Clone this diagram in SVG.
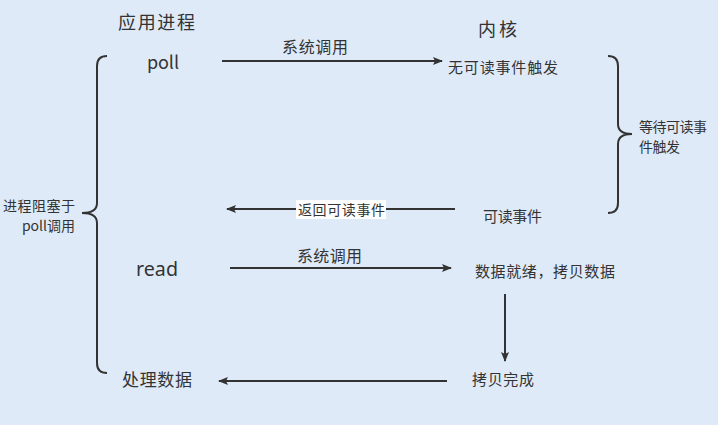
<svg xmlns="http://www.w3.org/2000/svg" width="718" height="425" viewBox="0 0 718 425">
<defs>
<marker id="ah" markerWidth="10" markerHeight="8" refX="9" refY="4" orient="auto" markerUnits="userSpaceOnUse">
<path d="M0,0 L10,4 L0,8 L2,4 Z" fill="#333"/>
</marker>
<style>
text{font-family:"Noto Sans CJK SC","Liberation Sans",sans-serif;fill:#333}
.t18{font-size:18px}
.t17{font-size:17px}
.t16{font-size:16px}
.t15{font-size:15px}
.t14{font-size:14px}
.lat{font-family:"Noto Sans","Noto Sans CJK SC",sans-serif}
.ln{stroke:#333;stroke-width:2;fill:none}
.br{stroke:#333;stroke-width:2;fill:none}
</style>
</defs>
<rect width="718" height="425" fill="#deeaf8"/>
<g id="connectors">
<line class="ln" x1="222" y1="61" x2="442" y2="61" marker-end="url(#ah)"/>
<line class="ln" x1="455" y1="209" x2="227" y2="209" marker-end="url(#ah)"/>
<line class="ln" x1="230" y1="268" x2="451" y2="268" marker-end="url(#ah)"/>
<line class="ln" x1="505" y1="294" x2="505" y2="361" marker-end="url(#ah)"/>
<line class="ln" x1="447" y1="381" x2="219" y2="381" marker-end="url(#ah)"/>
</g>
<g id="label-syscall1"><text class="t16" x="282" y="53" textLength="66" lengthAdjust="spacing">系统调用</text></g>
<g id="label-return"><rect x="296" y="200" width="90" height="19" fill="#ffffff"/><text class="t14" x="298" y="215" textLength="87" lengthAdjust="spacing">返回可读事件</text></g>
<g id="label-syscall2"><text class="t16" x="297" y="262" textLength="65" lengthAdjust="spacing">系统调用</text></g>
<g id="title-app"><text class="t18" x="118" y="29" textLength="77" lengthAdjust="spacing">应用进程</text></g>
<g id="title-kernel"><text class="t18" x="478" y="36" textLength="39" lengthAdjust="spacing">内核</text></g>
<g id="node-poll"><text class="t18" x="147" y="69" textLength="32" lengthAdjust="spacing">poll</text></g>
<g id="node-noevent"><text class="t15" x="448" y="73" textLength="110" lengthAdjust="spacing">无可读事件触发</text></g>
<g id="node-readable"><text class="t15" x="483" y="222" textLength="59" lengthAdjust="spacing">可读事件</text></g>
<g id="node-read"><text class="lat" x="136" y="276" style="font-size:20px" textLength="42" lengthAdjust="spacingAndGlyphs">read</text></g>
<g id="node-ready"><text class="t15" x="475" y="277" textLength="140" lengthAdjust="spacing">数据就绪，拷贝数据</text></g>
<g id="node-process"><text class="t17" x="122" y="386" textLength="70" lengthAdjust="spacing">处理数据</text></g>
<g id="node-copydone"><text class="t15" x="472" y="385" textLength="62" lengthAdjust="spacing">拷贝完成</text></g>
<g id="brace-left">
<path class="br" d="M107,56 Q97,56 97,66 L97,203 Q97,213 82,213 Q97,213 97,223 L97,363 Q97,373 107,373"/>
<text class="t14" x="3" y="211" textLength="72" lengthAdjust="spacing">进程阻塞于</text>
<text class="t14" x="75" y="231" text-anchor="end">poll调用</text>
</g>
<g id="brace-right">
<path class="br" d="M608,56 Q618,56 618,66 L618,124 Q618,134 632,134 Q618,134 618,144 L618,203 Q618,213 608,213"/>
<text class="t14" x="639" y="132" textLength="68" lengthAdjust="spacing">等待可读事</text>
<text class="t14" x="639" y="152" textLength="41" lengthAdjust="spacing">件触发</text>
</g>
</svg>
